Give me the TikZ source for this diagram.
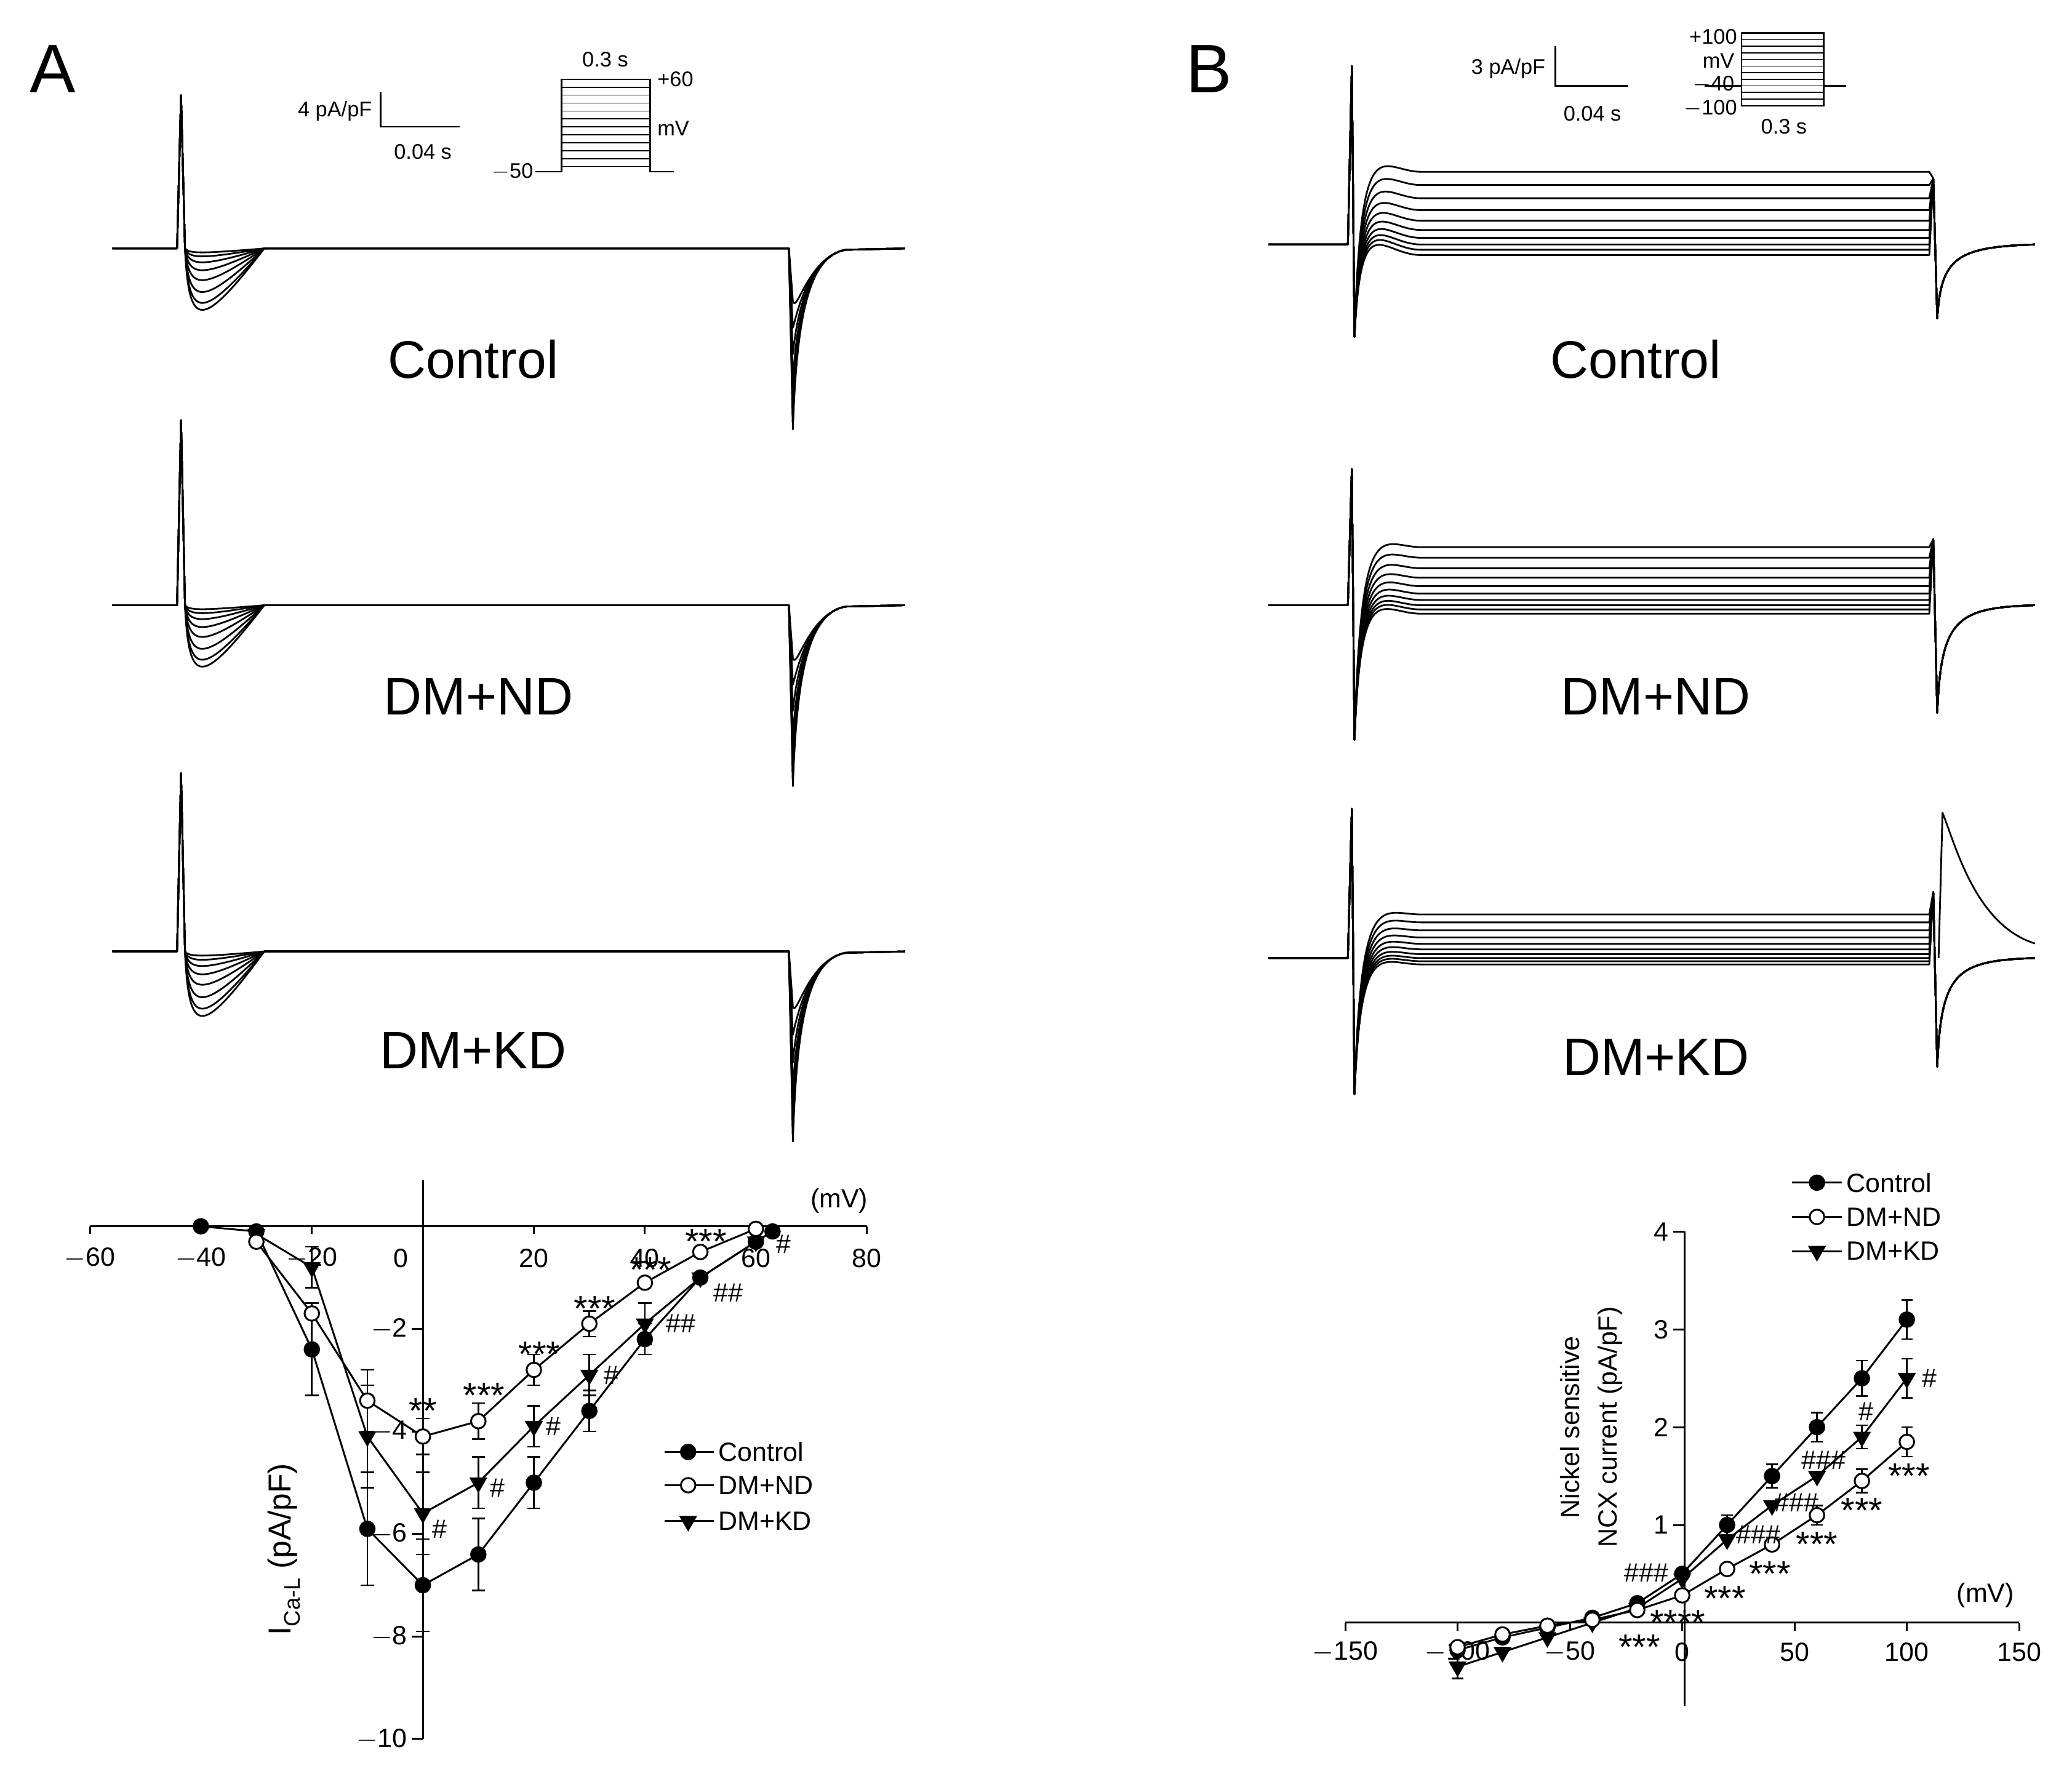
\documentclass[tikz,border=0pt]{standalone}
\usepackage{fontspec}
\setmainfont{Liberation Sans}
\usetikzlibrary{plotmarks}
\begin{document}
\begin{tikzpicture}[x=1pt,y=-1pt,
  tr/.style={line width=1.3pt,line join=round},
  ax/.style={line width=1.4pt},
  big/.style={font=\fontsize{40}{44}\selectfont},
  lett/.style={font=\fontsize{52}{56}\selectfont},
  num/.style={font=\fontsize{20}{23}\selectfont},
  sm/.style={font=\fontsize{16}{19}\selectfont},
  st/.style={font=\fontsize{27}{28}\selectfont},
  ctl/.style={line width=1.4pt,mark=*,mark size=5.5pt},
  nd/.style={line width=1.4pt,mark=*,mark size=5.5pt,mark options={fill=white}},
  kd/.style={line width=1.4pt,mark=triangle*,mark size=6.5pt,mark options={rotate=180}},
  eb/.style={line width=1.2pt}]
\useasboundingbox (0,0) rectangle (1568,1350);
\node[lett] (LA) at (40,52) {A};
\node[lett] (LB) at (915,52) {B};
% ---------- Panel A traces ----------
\foreach \by/\up/\sc in {188/116/1, 458/140/1, 720/135/1.05}{
 \begin{scope}[shift={(0,\by)}]
  \foreach \a/\b in {4/40,8/60,14/80,22/100,32/115,44/125,55/132,62/137}{
   \draw[tr] (85,0) -- (134,0) -- (137,-\up) -- (140,0) .. controls (143,\a*\sc) and (152,\a*\sc) .. (200,0) -- (597,0) -- (600,\b*\sc) .. controls (603,50) and (612,6) .. (640,1) -- (685,0);
  }
 \end{scope}}
\node[big] (tA1) at (358,272) {Control};
\node[big] (tA2) at (362,527) {DM+ND};
\node[big] (tA3) at (358,795) {DM+KD};
% scale bar A
\node[sm,anchor=east] (sbA) at (285,84) {4 pA/pF};
\draw[line width=1.2pt] (288,70) -- (288,96) -- (348,96);
\node[sm] (sbAt) at (320,115) {0.04 s};
\draw[line width=1.2pt] (405,130) -- (425,130) -- (425,60) -- (492,60) -- (492,130) -- (510,130);
\foreach \k in {66,72,...,126}{\draw[line width=0.8pt] (425,\k) -- (492,\k);}
\node[sm,anchor=east] (pA1) at (407,130) {$-$50};
\node[sm] (pA2) at (458,45) {0.3 s};
\node[sm,anchor=west] (pA3) at (494,60) {+60};
\node[sm,anchor=west] (pA4) at (494,97) {mV};
% ---------- Panel B traces ----------
\foreach \by/\up/\dn/\sc in {185/135/70/1, 458/103/102/0.8, 725/113/103/0.6}{
 \begin{scope}[shift={(0,\by)}]
  \foreach \l in {-55,-45,-35,-26,-18,-11,-5,0,4,8}{
   \draw[tr] (960,0) -- (1020,0) -- (1023,-\up) -- (1025,\dn) .. controls (1030,{(\l-40)*\sc}) and (1045,\l*\sc) .. (1075,\l*\sc) -- (1460,\l*\sc) -- (1463,-50) -- (1466,\dn*0.8) .. controls (1469,10) and (1480,2) .. (1540,0);
  }
 \end{scope}}
\draw[tr] (1467,725) -- (1470,615) .. controls (1480,640) and (1495,700) .. (1540,714);
\node[big] (tB1) at (1238,272) {Control};
\node[big] (tB2) at (1253,527) {DM+ND};
\node[big] (tB3) at (1253,800) {DM+KD};
\node[sm,anchor=east] (sbB) at (1173,52) {3 pA/pF};
\draw[line width=1.2pt] (1177,35) -- (1177,65) -- (1232,65);
\node[sm] (sbBt) at (1205,86) {0.04 s};
\draw[line width=1.2pt] (1290,65) -- (1318,65) (1318,25) rectangle (1380,80) (1380,65) -- (1397,65);
\foreach \k in {30,35,...,75}{\draw[line width=0.8pt] (1318,\k) -- (1380,\k);}
\node[sm,anchor=east] (pB1) at (1318,28) {+100};
\node[sm,anchor=east] (pB2) at (1316,46) {mV};
\node[sm,anchor=east] (pB3) at (1316,64) {$-$40};
\node[sm,anchor=east] (pB4) at (1318,82) {$-$100};
\node[sm] (pB5) at (1350,96) {0.3 s};
% ---------- Plot A ----------
\begin{scope}[shift={(320,928)},x=4.2pt,y=38.8pt]
 \draw[ax] (-60,0) -- (80,0);
 \draw[ax] (0,0.9) -- (0,-10);
 \foreach \v/\t/\o in {-60/$-$60/0,-40/$-$40/0,-20/$-$20/0,0/0/-4,20/20/0,40/40/0,60/60/0,80/80/0}{
  \draw[ax] (\v,0) -- (\v,-0.15);
  \node[num] (xa\v) at ({\v+\o},-0.62) {\t};}
 \foreach \v in {2,4,6,8,10}{
  \draw[ax] (0,-\v) -- (-2,-\v);
  \node[num,anchor=east] (ya\v) at (-2,-\v) {$-$\v};}
 \node[num] (mvA) at (75,0.5) {(mV)};
 \node[font=\fontsize{24}{28}\selectfont,rotate=90] (ylA) at (-25,-6.3) {I\raisebox{-0.3em}{\fontsize{17}{20}\selectfont Ca-L} (pA/pF)};
 \foreach \x/\y/\e in {-20/-2.4/0.9,-10/-5.9/1.1,0/-7.0/0.9,10/-6.4/0.7,20/-5.0/0.5,30/-3.6/0.4,40/-2.2/0.3,
   -10/-3.4/0.6,0/-4.1/0.35,10/-3.8/0.35,20/-2.8/0.3,30/-1.9/0.25,
   -20/-0.8/0.4,-10/-4.1/1.0,0/-5.6/0.8,10/-5.0/0.5,20/-3.9/0.4,30/-2.9/0.4,40/-1.9/0.4}{
  \draw[eb] (\x,\y-\e) -- (\x,\y+\e) (\x-1.2,\y-\e) -- (\x+1.2,\y-\e) (\x-1.2,\y+\e) -- (\x+1.2,\y+\e);}
 \draw[ctl] plot coordinates {(-40,0) (-30,-0.1) (-20,-2.4) (-10,-5.9) (0,-7.0) (10,-6.4) (20,-5.0) (30,-3.6) (40,-2.2) (50,-1.0) (60,-0.3) (63,-0.1)};
 \draw[kd] plot coordinates {(-30,-0.15) (-20,-0.8) (-10,-4.1) (0,-5.6) (10,-5.0) (20,-3.9) (30,-2.9) (40,-1.9) (50,-1.0) (60,-0.3)};
 \draw[nd] plot coordinates {(-30,-0.3) (-20,-1.7) (-10,-3.4) (0,-4.1) (10,-3.8) (20,-2.8) (30,-1.9) (40,-1.1) (50,-0.5) (60,-0.05)};
 \foreach \x/\y/\s [count=\i] in {0/-3.6/**,11/-3.3/***,21/-2.5/***,31/-1.6/***,41/-0.85/***,51/-0.3/***}{
  \node[st] (saA\i) at (\x,\y) {\s};}
 \foreach \x/\y/\s [count=\i] in {3/-5.9/\#,13.5/-5.1/\#,23.5/-3.9/\#,34/-2.9/\#,46.5/-1.9/\#\#,55/-1.3/\#\#,65/-0.35/\#}{
  \node[num] (haA\i) at (\x,\y) {\s};}
 \foreach \s/\yy/\n in {ctl/-4.4/Control,nd/-5.05/DM+ND,kd/-5.75/DM+KD}{
  \draw[line width=1.4pt] (43.6,\yy) -- (52.4,\yy);
  \draw[\s] plot coordinates {(47.8,\yy)};
  \node[num,anchor=west] (lgA\n) at (52.4,\yy) {\n};}
\end{scope}
% ---------- Plot B ----------
\begin{scope}[shift={(1273,1228)},x=1.7pt,y=74pt]
 \draw[ax] (-150,0) -- (150,0);
 \draw[ax] (1,-0.85) -- (1,4);
 \foreach \v/\t in {-150/$-$150,-100/$-$100,-50/$-$50,0/0,50/50,100/100,150/150}{
  \draw[ax] (\v,0) -- (\v,-0.08);
  \node[num] (xb\v) at (\v,-0.3) {\t};}
 \foreach \v in {1,2,3,4}{
  \draw[ax] (1,\v) -- (-4,\v);
  \node[num,anchor=east] (yb\v) at (-4,\v) {\v};}
 \node[num] (mvB) at (135,0.28) {(mV)};
 \node[num,rotate=90] (ylB1) at (-50,2) {Nickel sensitive};
 \node[num,rotate=90] (ylB2) at (-32,2) {NCX current (pA/pF)};
 \foreach \x/\y/\e in {100/3.1/0.2,80/2.5/0.18,60/2.0/0.15,40/1.5/0.12,20/1.0/0.1,100/1.85/0.15,80/1.45/0.12,60/1.1/0.1,100/2.5/0.2,80/1.9/0.12,-100/-0.45/0.12}{
  \draw[eb] (\x,\y-\e) -- (\x,\y+\e) (\x-2.5,\y-\e) -- (\x+2.5,\y-\e) (\x-2.5,\y+\e) -- (\x+2.5,\y+\e);}
 \draw[ctl] plot coordinates {(-100,-0.28) (-80,-0.15) (-60,-0.05) (-40,0.05) (-20,0.2) (0,0.5) (20,1.0) (40,1.5) (60,2.0) (80,2.5) (100,3.1)};
 \draw[kd] plot coordinates {(-100,-0.45) (-80,-0.3) (-60,-0.15) (-40,0.0) (-20,0.15) (0,0.45) (20,0.85) (40,1.2) (60,1.5) (80,1.9) (100,2.5)};
 \draw[nd] plot coordinates {(-100,-0.25) (-80,-0.12) (-60,-0.03) (-40,0.03) (-20,0.13) (0,0.28) (20,0.55) (40,0.8) (60,1.1) (80,1.45) (100,1.85)};
 \foreach \x/\y/\s [count=\i] in {-19/-0.25/***,-2/0.0/****,19/0.25/***,39/0.5/***,60/0.8/***,80/1.15/***,101/1.5/***}{
  \node[st] (sbB\i) at (\x,\y) {\s};}
 \foreach \x/\y/\s [count=\i] in {110/2.5/\#,82/2.16/\#,63/1.66/\#\#\#,51/1.23/\#\#\#,34/0.9/\#\#\#,-16/0.51/\#\#\#}{
  \node[num] (hbB\i) at (\x,\y) {\s};}
 \foreach \s/\yy/\n in {ctl/4.5/Control,nd/4.15/DM+ND,kd/3.8/DM+KD}{
  \draw[line width=1.4pt] (49,\yy) -- (71,\yy);
  \draw[\s] plot coordinates {(60,\yy)};
  \node[num,anchor=west] (lgB\n) at (71,\yy) {\n};}
\end{scope}
\end{tikzpicture}
\end{document}
